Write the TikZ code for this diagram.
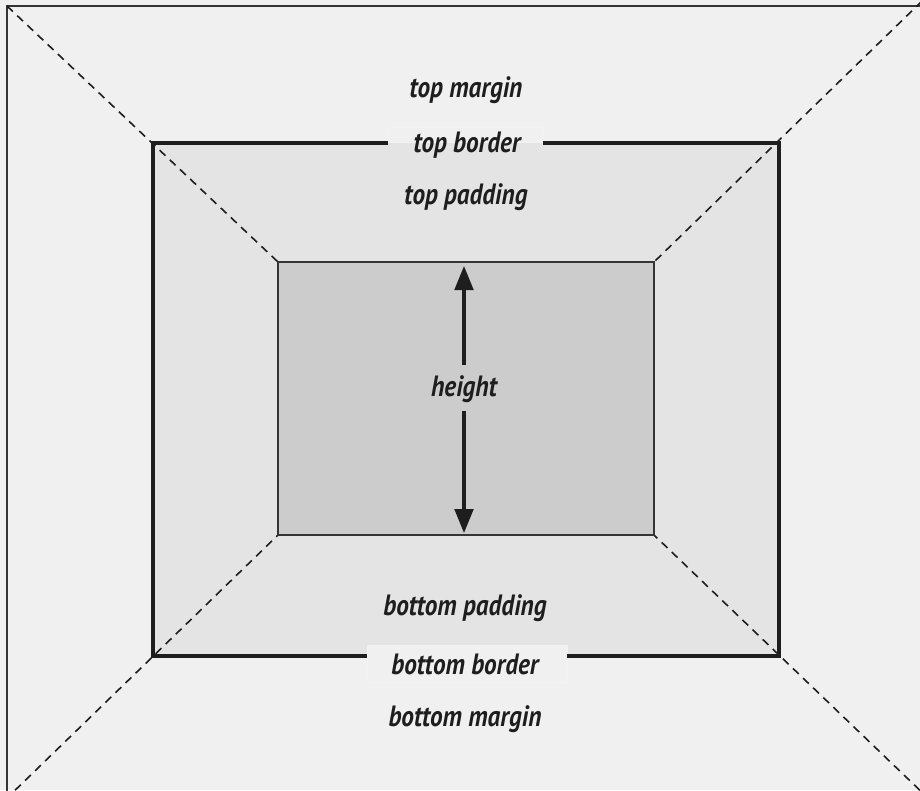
\documentclass[tikz,border=0pt]{standalone}
\usepackage{fontspec}
\setmainfont{PT Sans}
\usetikzlibrary{arrows.meta}
\definecolor{marginc}{HTML}{F0F0F0}
\definecolor{padc}{HTML}{E4E4E4}
\definecolor{contc}{HTML}{CCCCCC}
\definecolor{linec}{HTML}{1E1E1E}
\newcommand\mylbltxt[1]{\scalebox{0.86}[1]{#1}}
\tikzset{
  lbl/.style={font=\bfseries\itshape\fontsize{22}{24}\selectfont, text=linec, inner sep=0pt},
  diag/.style={draw=linec, line width=1.2pt, dash pattern=on 6pt off 4.5pt},
  borderln/.style={draw=linec, line width=2.6pt},
  labbox/.style={fill=#1, draw=black!5, line width=0.5pt, inner sep=0pt},
}
\begin{document}
\begin{tikzpicture}[x=0.75pt,y=-0.75pt]
\useasboundingbox (0,0) rectangle (920,790);
\clip (0,0) rectangle (920,790);
% margin area
\fill[marginc] (0,0) rectangle (920,790);
\draw[draw=linec!90, line width=1.5pt] (7,830) -- (7,6) -- (960,6);
% border/padding area
\coordinate (btl) at (153,143);
\coordinate (btr) at (779,143);
\coordinate (bbr) at (779,656);
\coordinate (bbl) at (153,656);
\fill[padc] (btl) rectangle (bbr);
% content
\coordinate (ctl) at (278,262);
\coordinate (ctr) at (654,262);
\coordinate (cbr) at (654,535);
\coordinate (cbl) at (278,535);
\fill[contc] (ctl) rectangle (cbr);
% diagonals
\coordinate (otl) at (7,6);
\coordinate (otr) at (922,1);
\coordinate (obl) at (5,800);
\coordinate (obr) at (930,800);
\draw[diag] (otl) -- (ctl);
\draw[diag] (otr) -- (ctr);
\draw[diag] (obl) -- (cbl);
\draw[diag] (obr) -- (cbr);
% content outline
\draw[draw=linec!90, line width=1.4pt] (ctl) rectangle (cbr);
% label boxes
\path[labbox=marginc] (388,127) rectangle (543,142);
\path[labbox=marginc] (367,645) rectangle (567,682);
% border lines with gaps
\draw[borderln] (388,143) -- (btl) -- (bbl) -- (367,656);
\draw[borderln] (543,143) -- (btr) -- (bbr) -- (567,656);
% labels
\node[lbl] (tm) at (466,90) {\mylbltxt{top margin}};
\node[lbl] (tb) at (467,145) {\mylbltxt{top border}};
\node[lbl] (tp) at (466,197) {\mylbltxt{top padding}};
\node[lbl] (h) at (464,389) {\mylbltxt{height}};
\node[lbl] (bp) at (465,608) {\mylbltxt{bottom padding}};
\node[lbl] (bb) at (465,664) {\mylbltxt{bottom border}};
\node[lbl] (bm) at (465,719) {\mylbltxt{bottom margin}};
% height arrows
\coordinate (atop) at (464,266);
\coordinate (abot) at (464,533);
\draw[draw=linec, line width=2.3pt, -{Triangle[length=18pt,width=14pt]}] (464,365) -- (atop);
\draw[draw=linec, line width=2.3pt, -{Triangle[length=18pt,width=14pt]}] (464,411) -- (abot);
\end{tikzpicture}
\end{document}
